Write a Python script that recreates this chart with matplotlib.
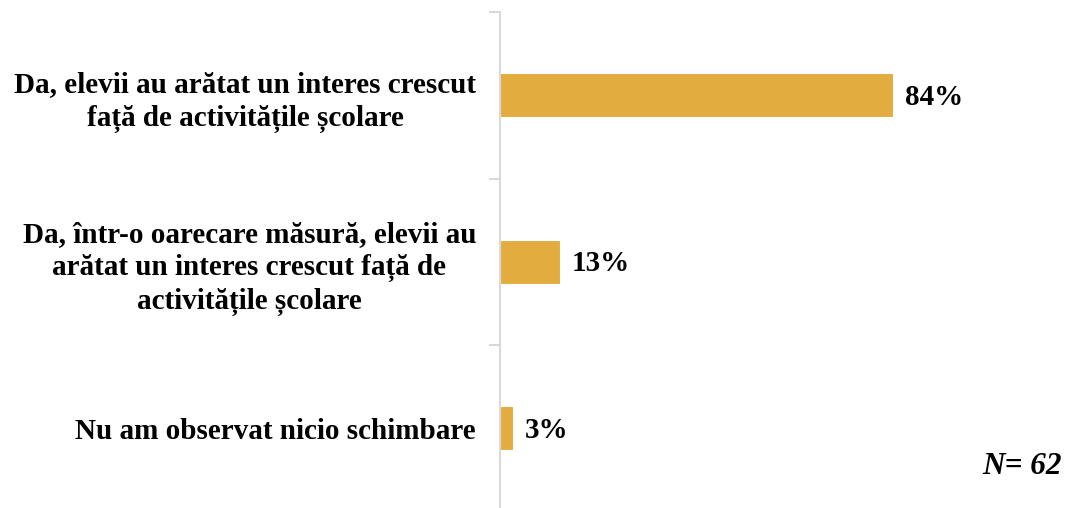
import numpy as np
import matplotlib
matplotlib.use('Agg')
import matplotlib.pyplot as plt
import matplotlib.transforms as mtransforms

categories = [
    "Da, elevii au arătat un interes crescut\nfață de activitățile școlare",
    "Da, într-o oarecare măsură, elevii au\narătat un interes crescut față de\nactivitățile școlare",
    "Nu am observat nicio schimbare",
]
values = [84, 13, 3]
value_labels = ["84%", "13%", "3%"]
note = "N= 62"

plt.rcParams['font.family'] = ['Liberation Serif', 'DejaVu Serif']

fig = plt.figure(figsize=(10.68, 5.08), dpi=100)
ax = fig.add_axes([500 / 1068, 1 - 512 / 508, 469 / 1068, 500 / 508])

y = np.arange(len(categories))
ax.barh(y, values, height=0.27, color='#E3AC3F', edgecolor='white', linewidth=1.5)
ax.set_xlim(0, 100)
ax.set_ylim(2.5, -0.5)

for yi, v, lab in zip(y, values, value_labels):
    ax.text(v + 2.3, yi + 0.01, lab, va='center', ha='left', fontsize=21, fontweight='bold')

ax.set_yticks(y)
ax.set_yticklabels(categories, fontsize=21, fontweight='bold', ha='center',
                   multialignment='center', linespacing=1.3)
ax.tick_params(axis='y', which='major', length=0, pad=0)
ax.set_yticks([-0.5, 0.5, 1.5, 2.5], minor=True)
ax.tick_params(axis='y', which='minor', length=8, width=1.5, color='#d9d9d9')
ax.set_xticks([])

for s in ['top', 'right', 'bottom']:
    ax.spines[s].set_visible(False)
ax.spines['left'].set_color('#d9d9d9')
ax.spines['left'].set_linewidth(1.5)

# shift centred labels so their right edge sits ~24px left of the axis
fig.canvas.draw()
renderer = fig.canvas.get_renderer()
for t in ax.get_yticklabels():
    w = t.get_window_extent(renderer).width
    off = mtransforms.ScaledTranslation(-(24 + w / 2) / 100, 0, fig.dpi_scale_trans)
    t.set_transform(t.get_transform() + off)

fig.text(1062 / 1068, 1 - 466 / 508, note, ha='right', va='center',
         fontsize=22.5, fontweight='bold', fontstyle='italic')

fig.savefig('out.png', dpi=100)
